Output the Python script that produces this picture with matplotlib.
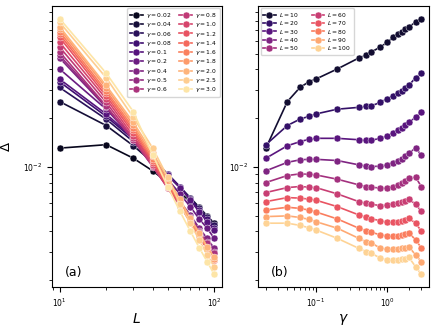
import numpy as np
import matplotlib
matplotlib.use('Agg')
from matplotlib import pyplot as plt

gammas = [0.02, 0.04, 0.06, 0.08, 0.1, 0.2, 0.4, 0.5, 0.6, 0.8,
          1.0, 1.2, 1.4, 1.6, 1.8, 2.0, 2.5, 3.0]
Ls = [10, 20, 30, 40, 50, 60, 70, 80, 90, 100]

# Delta in units of 1e-3, one list per L (ordered like gammas)
delta_L10 = [13.05, 25.3, 30.9, 33.5, 34.8, 40.2, 47.0, 48.7, 51.2, 54.9,
             58.7, 63.0, 65.7, 68.3, 71.0, 73.3, 78.0, 82.2]
delta_L20 = [13.7, 18.0, 19.7, 20.5, 21.2, 22.7, 23.3, 23.6, 23.8, 25.0,
             26.3, 27.4, 28.5, 29.5, 30.8, 31.8, 35.5, 37.9]
delta_L30 = [11.3, 13.5, 14.3, 14.8, 15.0, 15.0, 14.7, 14.6, 14.6, 15.0,
             15.5, 16.2, 16.8, 17.4, 18.1, 18.8, 20.2, 21.9]
delta_L40 = [9.45, 10.66, 11.05, 11.13, 11.13, 10.94, 10.29, 10.14, 10.04, 10.10,
             10.33, 10.63, 10.94, 11.26, 11.64, 12.15, 13.05, 11.86]
delta_L50 = [8.00, 8.84, 9.05, 8.99, 8.92, 8.39, 7.74, 7.56, 7.49, 7.39,
             7.39, 7.56, 7.74, 7.93, 8.19, 8.52, 8.64, 7.56]
delta_L60 = [6.94, 7.45, 7.56, 7.49, 7.45, 6.81, 6.10, 5.97, 5.88, 5.76,
             5.82, 5.90, 5.97, 6.05, 6.14, 6.32, 5.88, 5.32]
delta_L70 = [6.10, 6.46, 6.41, 6.32, 6.23, 5.68, 5.05, 4.89, 4.77, 4.66,
             4.55, 4.55, 4.59, 4.64, 4.70, 4.82, 4.49, 4.02]
delta_L80 = [5.42, 5.63, 5.54, 5.41, 5.27, 4.77, 4.18, 4.04, 3.95, 3.80,
             3.75, 3.75, 3.76, 3.80, 3.85, 3.93, 3.54, 3.17]
delta_L90 = [4.93, 4.98, 4.87, 4.74, 4.59, 4.18, 3.62, 3.45, 3.40, 3.14,
             3.11, 3.11, 3.13, 3.14, 3.17, 3.22, 2.86, 2.60]
delta_L100 = [4.49, 4.49, 4.35, 4.21, 4.08, 3.62, 3.14, 3.00, 2.93, 2.73,
              2.66, 2.66, 2.67, 2.69, 2.71, 2.77, 2.42, 2.17]

delta = np.array([delta_L10, delta_L20, delta_L30, delta_L40, delta_L50,
                  delta_L60, delta_L70, delta_L80, delta_L90, delta_L100]) * 1e-3


def magmaColors(n):
    # evenly spaced, skipping both ends of the colormap
    return plt.cm.magma(np.linspace(0, 1, n + 2)[1:-1])


def styleAxis(ax, xlabel, tag):
    ax.set_xscale('log')
    ax.set_yscale('log')
    ax.set_xlabel(xlabel, fontsize=10, labelpad=2)
    ax.tick_params(which='major', labelsize=5.5, length=3.5, width=0.8)
    ax.tick_params(which='minor', length=2, width=0.6)
    ax.text(0.075, 0.052, tag, transform=ax.transAxes, fontsize=9,
            ha='left', va='center')


fig = plt.figure(figsize=(4.36, 3.27), dpi=100)
axA = fig.add_axes([0.119, 0.122, 0.390, 0.860])
axB = fig.add_axes([0.592, 0.122, 0.392, 0.860])

lineKw = dict(marker='o', markersize=5, lw=1.2, mec='white', mew=0.3)

for i, (g, c) in enumerate(zip(gammas, magmaColors(len(gammas)))):
    axA.plot(Ls, delta[:, i], color=c, label=r'$\gamma = %s$' % g, **lineKw)

for j, (L, c) in enumerate(zip(Ls, magmaColors(len(Ls)))):
    axB.plot(gammas, delta[j], color=c, label=r'$L = %d$' % L, **lineKw)

styleAxis(axA, r'$L$', '(a)')
styleAxis(axB, r'$\gamma$', '(b)')
axA.set_ylabel(r'$\Delta$', fontsize=9.5, labelpad=7)

legKw = dict(ncol=2, fontsize=4.3, handlelength=2.1, handletextpad=0.5,
             labelspacing=0.05, borderpad=0.45, borderaxespad=0.4)
axA.legend(loc='upper right', columnspacing=1.3, **legKw)
axB.legend(loc='upper left', columnspacing=2.2, **legKw)

fig.savefig('out.png', dpi=100)
